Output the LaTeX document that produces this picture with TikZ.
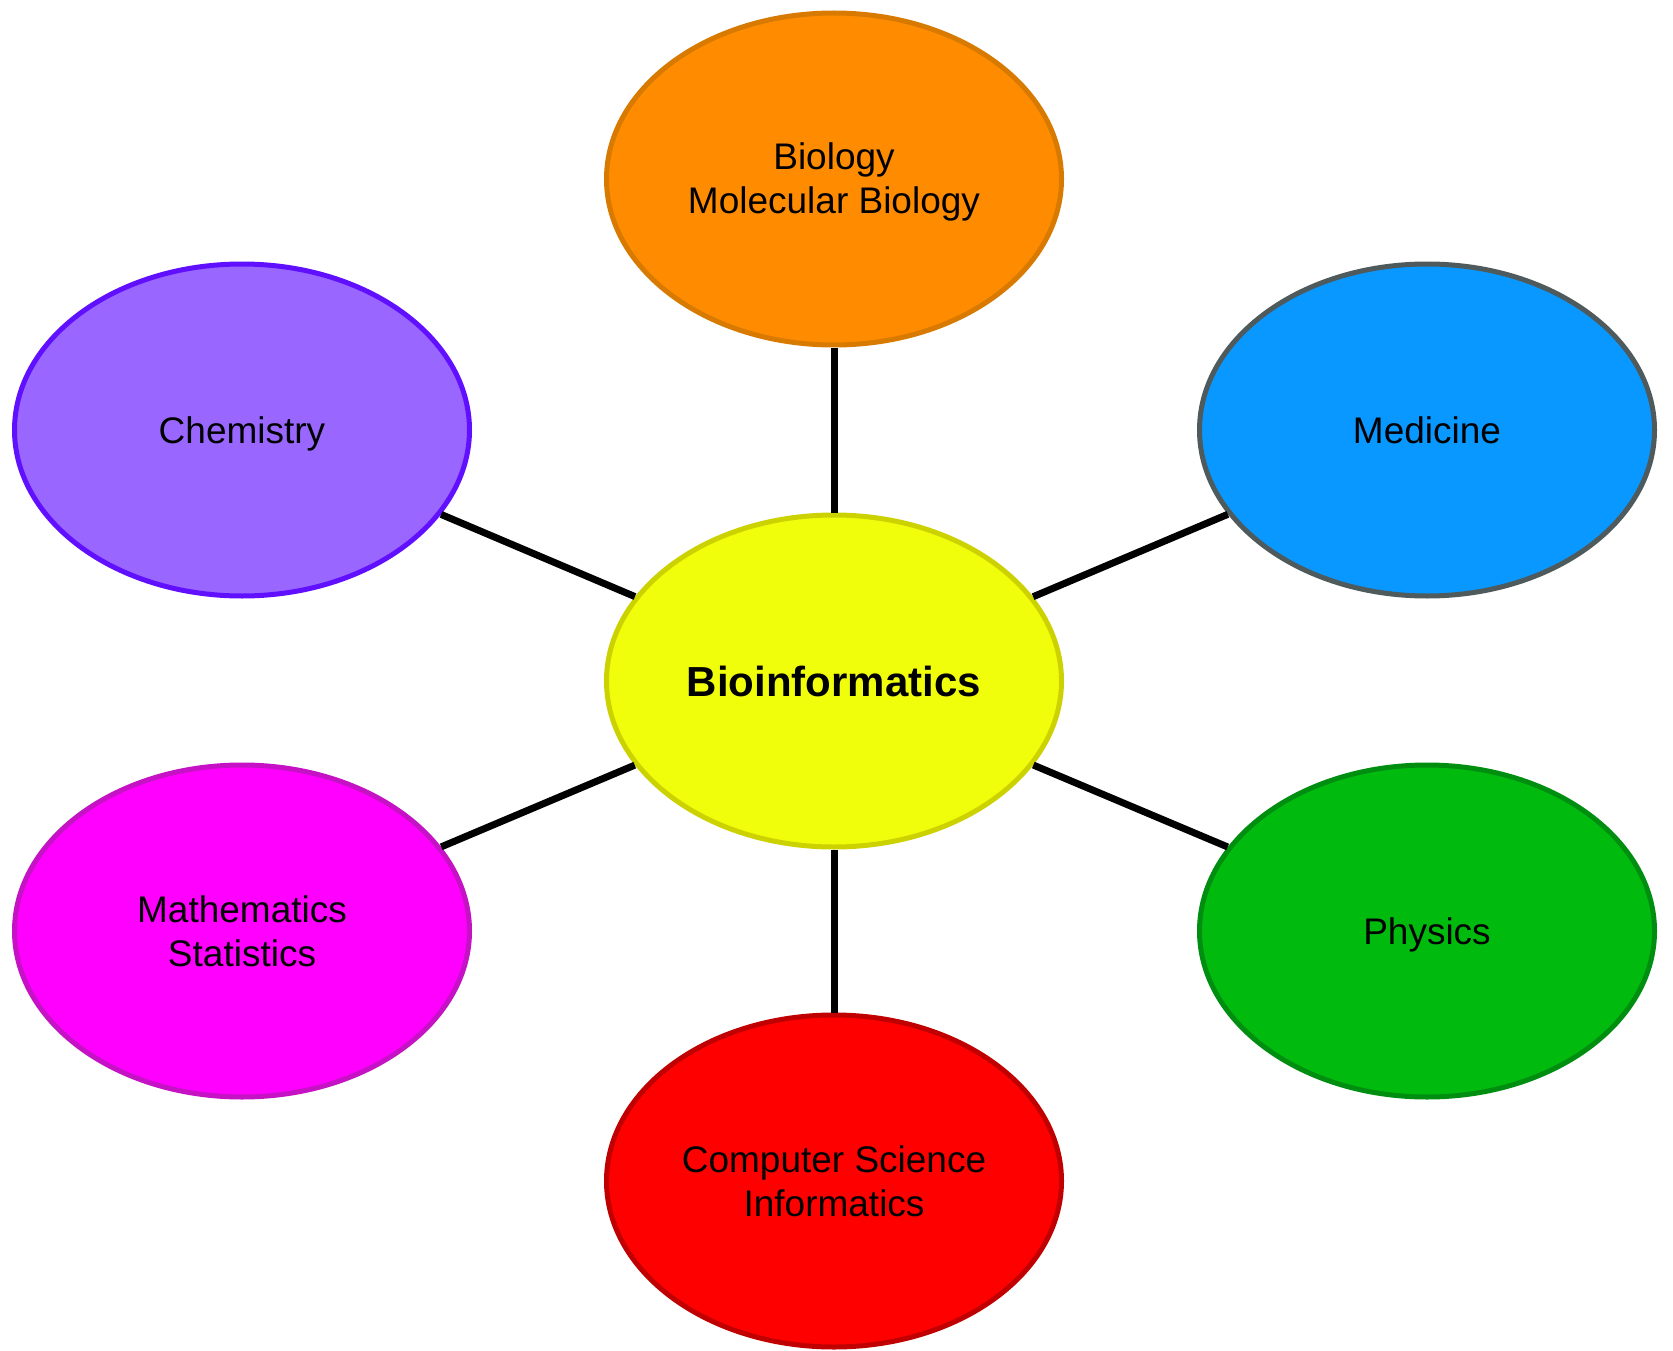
\documentclass[tikz,border=0pt]{standalone}
\usepackage{fontspec}
\setmainfont{Liberation Sans}
\usetikzlibrary{shapes.geometric}
\definecolor{bioF}{HTML}{FF8C00}\definecolor{bioD}{HTML}{D87A00}
\definecolor{chemF}{HTML}{9966FF}\definecolor{chemD}{HTML}{6010FF}
\definecolor{centF}{HTML}{F0FD0B}\definecolor{centD}{HTML}{CCD200}
\definecolor{medF}{HTML}{0898FF}\definecolor{medD}{HTML}{4F5A5C}
\definecolor{mathF}{HTML}{FF00FF}\definecolor{mathD}{HTML}{C412C4}
\definecolor{physF}{HTML}{00BB0E}\definecolor{physD}{HTML}{008E10}
\definecolor{csF}{HTML}{FF0000}\definecolor{csD}{HTML}{C00000}
\begin{document}
\begin{tikzpicture}[x=1pt,y=-1pt,
  blob/.style={ellipse, draw, line width=5pt, inner sep=0pt, minimum width=455pt, minimum height=332pt},
  lbl/.style={anchor=base, inner sep=0pt, font=\fontsize{37pt}{44pt}\selectfont},
  blbl/.style={anchor=base, inner sep=0pt, font=\fontsize{42pt}{50pt}\selectfont\bfseries},
  link/.style={line width=7pt, black}]
\useasboundingbox (0,0) rectangle (1673,1351);
\fill[white] (0,0) rectangle (1673,1351);
\node[blob, fill=centF, draw=centD] (bi) at (834,681) {};
\node[blob, fill=bioF, draw=bioD] (bio) at (834,179) {};
\node[blob, fill=chemF, draw=chemD] (chem) at (242,430) {};
\node[blob, fill=medF, draw=medD] (med) at (1427,430) {};
\node[blob, fill=mathF, draw=mathD] (math) at (242,931) {};
\node[blob, fill=physF, draw=physD] (phys) at (1427,931) {};
\node[blob, fill=csF, draw=csD] (cs) at (834,1181) {};
\draw[link] (bi) -- (bio);
\draw[link] (bi) -- (chem);
\draw[link] (bi) -- (med);
\draw[link] (bi) -- (math);
\draw[link] (bi) -- (phys);
\draw[link] (bi) -- (cs);
\node[blbl] (biT) at ([yshift=-15pt]bi.center) {Bioinformatics};
\node[lbl] (bioT1) at ([yshift=9pt]bio.center) {Biology};
\node[lbl] (bioT2) at ([yshift=-35pt]bio.center) {Molecular Biology};
\node[lbl] (chemT) at ([yshift=-13pt]chem.center) {Chemistry};
\node[lbl] (medT) at ([yshift=-13pt]med.center) {Medicine};
\node[lbl] (mathT1) at ([yshift=9pt]math.center) {Mathematics};
\node[lbl] (mathT2) at ([yshift=-35pt]math.center) {Statistics};
\node[lbl] (physT) at ([yshift=-13pt]phys.center) {Physics};
\node[lbl] (csT1) at ([yshift=9pt]cs.center) {Computer Science};
\node[lbl] (csT2) at ([yshift=-35pt]cs.center) {Informatics};
\end{tikzpicture}
\end{document}
